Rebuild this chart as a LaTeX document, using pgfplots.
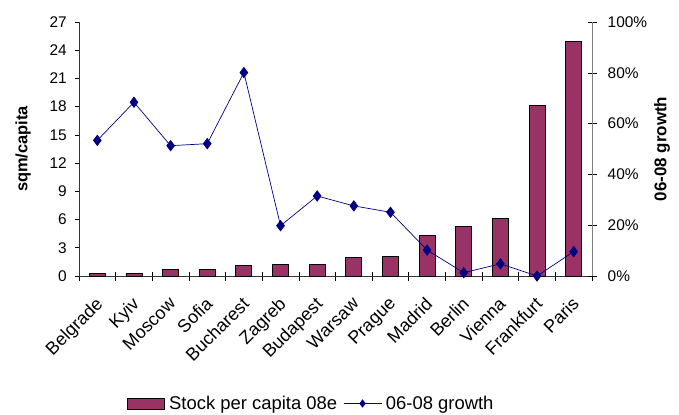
\documentclass[border=0pt]{standalone}
\usepackage{pgfplots}
\pgfplotsset{compat=1.18}
\usepackage{pgfplotstable}
\usepackage{fontspec}
\setmainfont{Liberation Sans}
\definecolor{barred}{HTML}{993366}
\definecolor{navyline}{HTML}{000080}

% Legend symbols: a wide bar swatch and a line with one diamond in the middle
\pgfplotsset{
  bar swatch/.style={legend image code/.code={%
    \draw[fill=barred, draw=black, line width=0.8pt] (0bp,-5.5bp) rectangle (37bp,5.5bp);}},
  diamond line/.style={legend image code/.code={%
    \draw[##1, mark size=3.6pt, mark repeat=2, mark phase=2]
      plot coordinates {(0bp,0bp) (19bp,0bp) (38bp,0bp)};}},
}

% Office stock per capita (sqm) and 2006-08 stock growth (%)
\pgfplotstableread{
idx stock growth
0  0.30 53.4
1  0.30 68.4
2  0.70 51.3
3  0.70 52.1
4  1.10 80.1
5  1.25 19.8
6  1.25 31.5
7  1.95 27.6
8  2.10 25.1
9  4.35 10.2
10 5.25 1.3
11 6.10 4.8
12 18.1 0.0
13 24.9 9.6
}\citydata

\begin{document}
\begin{tikzpicture}
\pgfplotsset{
  every axis/.append style={
    at={(0,0)}, anchor=south west,
    scale only axis, width=513bp, height=254bp,
    xmin=-0.5, xmax=13.5,
    font=\fontsize{15.5}{18}\selectfont,
    yticklabel style={font=\fontsize{15.5}{18}\selectfont, inner sep=0pt},
    xticklabel style={font=\fontsize{18}{20}\selectfont},
    label style={font=\fontsize{16.5}{20}\selectfont\bfseries},
    /pgf/number format/assume math mode=true,
    tick style={black, line width=0.6pt},
    axis line style={line width=0.6pt},
  },
}
\begin{axis}[
  ymin=0, ymax=27, ytick={0,3,...,27},
  axis x line*=bottom, axis y line*=left,
  axis line style={black!80},
  ytick align=outside, major tick length=4bp,
  xtick={0,...,13},
  xticklabels={Belgrade,Kyiv,Moscow,Sofia,Bucharest,Zagreb,Budapest,Warsaw,Prague,Madrid,Berlin,Vienna,Frankfurt,Paris},
  x tick label style={rotate=45, anchor=north east, inner sep=0pt, xshift=-4bp},
  xticklabel shift=15bp,
  major x tick style={draw=none},
  minor xtick={-0.5,0.5,...,13.5},
  minor x tick style={black, line width=0.6pt},
  xtick align=center, minor tick length=9bp,
  ylabel={sqm/capita},
  ylabel style={at={(axis description cs:-0.109,0.5)}, anchor=center},
  yticklabel style={anchor=east, xshift=-8bp},
]
\addplot[ybar, bar width=16bp, fill=barred, draw=black, line width=0.8pt]
  table[x=idx, y=stock] {\citydata};
\end{axis}
\begin{axis}[
  ymin=0, ymax=100, ytick={0,20,...,100},
  yticklabel={\pgfmathprintnumber{\tick}\%},
  axis x line=none, axis y line*=right,
  axis line style={gray},
  ytick align=center, major tick length=9bp,
  ylabel={06-08 growth},
  ylabel style={at={(axis description cs:1.1365,0.5)}, anchor=center, font=\fontsize{17}{20}\selectfont\bfseries},
  yticklabel style={anchor=west, xshift=11bp},
  legend style={draw=none, at={(0.455,-0.502)}, anchor=center,
    legend columns=2,
    /tikz/every even column/.append style={column sep=2bp},
    nodes={inner xsep=4bp},
    font=\fontsize{18.5}{20}\selectfont},
  legend cell align=left,
]
\addlegendimage{bar swatch}
\addlegendentry{Stock per capita 08e}
\addplot[navyline, line width=0.7pt, mark=diamond*, mark size=5.2pt,
  mark options={fill=navyline, draw=navyline}, diamond line]
  table[x=idx, y=growth] {\citydata};
\addlegendentry{06-08 growth}
\end{axis}
\pgfresetboundingbox
\useasboundingbox (-79bp,-139bp) rectangle (600bp,276bp);
\end{tikzpicture}
\end{document}
